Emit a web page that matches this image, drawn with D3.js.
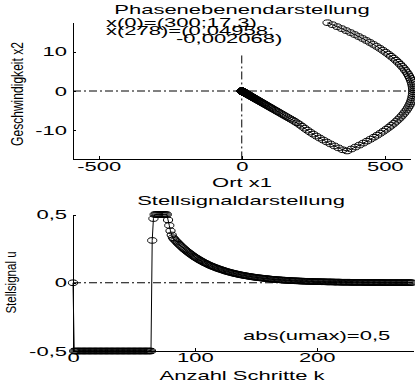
<!DOCTYPE html>
<html>
<head>
<meta charset="utf-8">
<script src="https://cdn.jsdelivr.net/npm/d3@7"></script>
<style>
  body { margin: 0; background: #fff; }
  svg { display: block; }
  text { font-family: "Liberation Sans", Arial, Helvetica, sans-serif; fill: #000; }
</style>
</head>
<body>
<script>
// Phase plane: position x1, velocity x2 for k = 0..278
var x1 = [
  300, 317.05, 333.6, 349.65, 365.2, 380.25, 394.8, 408.85, 422.4, 435.45,
  448, 460.05, 471.6, 482.65, 493.2, 503.25, 512.8, 521.85, 530.4, 538.45,
  546, 553.05, 559.6, 565.65, 571.2, 576.25, 580.8, 584.85, 588.4, 591.45,
  594, 596.05, 597.6, 598.65, 599.2, 599.25, 598.8, 597.85, 596.4, 594.45,
  592, 589.05, 585.6, 581.65, 577.2, 572.25, 566.8, 560.85, 554.4, 547.45,
  540, 532.05, 523.6, 514.65, 505.2, 495.25, 484.8, 473.85, 462.4, 450.45,
  438, 425.05, 411.6, 397.65, 383.2, 368.25,
  353.2, 338.55, 324.38, 310.71, 297.54, 284.87, 272.7, 261.03, 249.86, 239.19,
  229.02, 219.35, 210.18, 201.49, 193.22, 185.33, 177.79,
  170.5, 163.51, 156.81, 150.38, 144.21, 138.3, 132.63, 127.19, 121.97, 116.97,
  112.18, 107.58, 103.17, 98.94, 94.88, 90.99, 87.26, 83.68, 80.25, 76.96,
  73.81, 70.78, 67.88, 65.1, 62.43, 59.87, 57.41, 55.06, 52.8, 50.64,
  48.56, 46.57, 44.66, 42.83, 41.07, 39.39, 37.77, 36.22, 34.74, 33.32,
  31.95, 30.64, 29.38, 28.18, 27.02, 25.92, 24.85, 23.83, 22.86, 21.92,
  21.02, 20.16, 19.33, 18.54, 17.78, 17.05, 16.35, 15.68, 15.04, 14.42,
  13.83, 13.26, 12.72, 12.2, 11.7, 11.22, 10.76, 10.32, 9.89, 9.49,
  9.1, 8.73, 8.37, 8.02, 7.7, 7.38, 7.08, 6.79, 6.51, 6.24,
  5.99, 5.74, 5.51, 5.28, 5.06, 4.86, 4.66, 4.47, 4.28, 4.11,
  3.94, 3.78, 3.62, 3.47, 3.33, 3.19, 3.06, 2.94, 2.82, 2.7,
  2.59, 2.48, 2.38, 2.28, 2.19, 2.1, 2.01, 1.93, 1.85, 1.78,
  1.7, 1.63, 1.57, 1.5, 1.44, 1.38, 1.33, 1.27, 1.22, 1.17,
  1.12, 1.08, 1.03, 0.99, 0.95, 0.91, 0.87, 0.84, 0.8, 0.77,
  0.74, 0.71, 0.68, 0.65, 0.62, 0.6, 0.57, 0.55, 0.53, 0.51,
  0.49, 0.47, 0.45, 0.43, 0.41, 0.39, 0.38, 0.36, 0.35, 0.33,
  0.32, 0.31, 0.29, 0.28, 0.27, 0.26, 0.25, 0.24, 0.23, 0.22,
  0.21, 0.2, 0.19, 0.19, 0.18, 0.17, 0.16, 0.16, 0.15, 0.14,
  0.14, 0.13, 0.13, 0.12, 0.12, 0.11, 0.11, 0.1, 0.1, 0.09,
  0.09, 0.09, 0.08, 0.08, 0.08, 0.07, 0.07, 0.07, 0.06, 0.06,
  0.06, 0.06, 0.05, 0.05, 0.05, 0.04958
];
var x2 = [
  17.3, 16.8, 16.3, 15.8, 15.3, 14.8, 14.3, 13.8, 13.3, 12.8,
  12.3, 11.8, 11.3, 10.8, 10.3, 9.8, 9.3, 8.8, 8.3, 7.8,
  7.3, 6.8, 6.3, 5.8, 5.3, 4.8, 4.3, 3.8, 3.3, 2.8,
  2.3, 1.8, 1.3, 0.8, 0.3, -0.2, -0.7, -1.2, -1.7, -2.2,
  -2.7, -3.2, -3.7, -4.2, -4.7, -5.2, -5.7, -6.2, -6.7, -7.2,
  -7.7, -8.2, -8.7, -9.2, -9.7, -10.2, -10.7, -11.2, -11.7, -12.2,
  -12.7, -13.2, -13.7, -14.2, -14.7, -15.2,
  -14.89, -14.42, -13.92, -13.42, -12.92, -12.42, -11.92, -11.42, -10.92, -10.42,
  -9.92, -9.42, -8.92, -8.47, -8.07, -7.71, -7.38,
  -7.09, -6.8, -6.52, -6.26, -6, -5.75, -5.52, -5.29, -5.07, -4.87,
  -4.67, -4.48, -4.29, -4.12, -3.95, -3.79, -3.63, -3.48, -3.34, -3.2,
  -3.07, -2.94, -2.82, -2.71, -2.6, -2.49, -2.39, -2.29, -2.2, -2.11,
  -2.02, -1.94, -1.86, -1.78, -1.71, -1.64, -1.57, -1.51, -1.45, -1.39,
  -1.33, -1.27, -1.22, -1.17, -1.12, -1.08, -1.03, -0.99, -0.95, -0.91,
  -0.87, -0.84, -0.8, -0.77, -0.74, -0.71, -0.68, -0.65, -0.63, -0.6,
  -0.58, -0.55, -0.53, -0.51, -0.49, -0.47, -0.45, -0.43, -0.41, -0.39,
  -0.38, -0.36, -0.35, -0.33, -0.32, -0.31, -0.29, -0.28, -0.27, -0.26,
  -0.25, -0.24, -0.23, -0.22, -0.21, -0.2, -0.19, -0.19, -0.18, -0.17,
  -0.16, -0.16, -0.15, -0.14, -0.14, -0.13, -0.13, -0.12, -0.12, -0.11,
  -0.11, -0.1, -0.1, -0.095, -0.091, -0.087, -0.084, -0.08, -0.077, -0.074,
  -0.071, -0.068, -0.065, -0.062, -0.06, -0.057, -0.055, -0.053, -0.051, -0.049,
  -0.047, -0.045, -0.043, -0.041, -0.04, -0.038, -0.036, -0.035, -0.033, -0.032,
  -0.031, -0.03, -0.028, -0.027, -0.026, -0.025, -0.024, -0.023, -0.022, -0.021,
  -0.02, -0.02, -0.019, -0.018, -0.017, -0.016, -0.016, -0.015, -0.015, -0.014,
  -0.013, -0.013, -0.012, -0.012, -0.011, -0.011, -0.01, -0.01, -0.0096, -0.0092,
  -0.0087, -0.0083, -0.0079, -0.0079, -0.0075, -0.0071, -0.0067, -0.0067, -0.0062, -0.0058,
  -0.0058, -0.0054, -0.0054, -0.005, -0.005, -0.0046, -0.0046, -0.0042, -0.0042, -0.0037,
  -0.0037, -0.0037, -0.0033, -0.0033, -0.0033, -0.0029, -0.0029, -0.0029, -0.0025, -0.0025,
  -0.0025, -0.0025, -0.0021, -0.0021, -0.0021, -0.002068
];

// control signal u for k = 0..278
var u = [
  0,
  -0.5, -0.5, -0.5, -0.5, -0.5, -0.5, -0.5, -0.5, -0.5, -0.5,
  -0.5, -0.5, -0.5, -0.5, -0.5, -0.5, -0.5, -0.5, -0.5, -0.5,
  -0.5, -0.5, -0.5, -0.5, -0.5, -0.5, -0.5, -0.5, -0.5, -0.5,
  -0.5, -0.5, -0.5, -0.5, -0.5, -0.5, -0.5, -0.5, -0.5, -0.5,
  -0.5, -0.5, -0.5, -0.5, -0.5, -0.5, -0.5, -0.5, -0.5, -0.5,
  -0.5, -0.5, -0.5, -0.5, -0.5, -0.5, -0.5, -0.5, -0.5, -0.5,
  -0.5, -0.5, -0.5, -0.5,
  0.31, 0.47,
  0.5, 0.5, 0.5, 0.5, 0.5, 0.5, 0.5, 0.5, 0.5, 0.5, 0.5,
  0.46, 0.42, 0.38, 0.35,
  0.330, 0.320, 0.310, 0.301, 0.291, 0.282, 0.274, 0.265, 0.257, 0.249,
  0.241, 0.234, 0.227, 0.220, 0.213, 0.207, 0.200, 0.194, 0.188, 0.182,
  0.177, 0.171, 0.166, 0.161, 0.156, 0.151, 0.146, 0.142, 0.138, 0.133,
  0.129, 0.125, 0.121, 0.118, 0.114, 0.111, 0.107, 0.104, 0.101, 0.098,
  0.095, 0.092, 0.089, 0.086, 0.083, 0.081, 0.078, 0.076, 0.074, 0.071,
  0.069, 0.067, 0.065, 0.063, 0.061, 0.059, 0.057, 0.056, 0.054, 0.052,
  0.051, 0.049, 0.048, 0.046, 0.045, 0.043, 0.042, 0.041, 0.039, 0.038,
  0.037, 0.036, 0.035, 0.034, 0.033, 0.032, 0.031, 0.030, 0.029, 0.028,
  0.027, 0.026, 0.025, 0.025, 0.024, 0.023, 0.022, 0.022, 0.021, 0.020,
  0.020, 0.019, 0.019, 0.018, 0.017, 0.017, 0.016, 0.016, 0.015, 0.015,
  0.014, 0.014, 0.014, 0.013, 0.013, 0.012, 0.012, 0.012, 0.011, 0.011,
  0.011, 0.010, 0.010, 0.010, 0.009, 0.009, 0.009, 0.008, 0.008,
  0.008, 0.008, 0.008, 0.007, 0.007, 0.007, 0.007, 0.006, 0.006, 0.006,
  0.006, 0.006, 0.006, 0.005, 0.005, 0.005, 0.005, 0.005, 0.005, 0.004,
  0.004, 0.004, 0.004, 0.004, 0.004, 0.004, 0.004, 0.003, 0.003, 0.003,
  0.003, 0.003, 0.003, 0.003, 0.003, 0.003, 0.003, 0.003, 0.002, 0.002,
  0.002, 0.002, 0.002, 0.002, 0.002, 0.002, 0.002, 0.002, 0.002, 0.002,
  0.002, 0.002, 0.002, 0.002, 0.001, 0.001, 0.001, 0.001, 0.001, 0.001,
  0.001, 0.001, 0.001, 0.001, 0.001, 0.001, 0.001, 0.001, 0.001, 0.001,
  0.001, 0.001, 0.001, 0.001, 0.001, 0.001, 0.001, 0.001
];

var xTicks1 = [-500, 0, 500];
var yTicks1 = [-10, 0, 10];
var xTicks2 = [0, 100, 200];
var yTicks2 = [-0.5, 0, 0.5];
var annot = ["x(0)=(300;17,3)", "x(278)=(0,04958;", "-0,002068)"];

var W = 415, H = 384;
var SY = 0.57;   // text in the picture is flattened vertically
// MATLAB style labels: plain hyphen and decimal comma
var comma = function(d) { return String(d).replace(".", ","); };

var svg = d3.select("body").append("svg")
    .attr("width", W)
    .attr("height", H);

function label(x, y, s, anchor) {
    return svg.append("text")
        .attr("transform", "translate(" + x + "," + y + ") scale(1," + SY + ")")
        .attr("font-size", 22)
        .attr("text-anchor", anchor || "middle")
        .text(s);
}

function ylabel(x, y, s, size, squeeze) {
    svg.append("text")
        .attr("transform", "translate(" + x + "," + y + ") rotate(-90) scale(" + squeeze + ",1)")
        .attr("font-size", size)
        .attr("text-anchor", "middle")
        .text(s);
}

function styleAxis(g, horizontal, offset) {
    g.attr("font-size", 22)
        .attr("font-family", "'Liberation Sans', Arial, Helvetica, sans-serif");
    g.select(".domain").attr("stroke", "#000").attr("shape-rendering", "crispEdges");
    g.selectAll(".tick line").attr("stroke", "#000").attr("shape-rendering", "crispEdges");
    if (horizontal) {
        g.selectAll(".tick text").attr("y", null).attr("dy", null)
            .attr("transform", "translate(0," + offset + ") scale(1," + SY + ")");
    } else {
        g.selectAll(".tick text").attr("x", null).attr("dy", null)
            .attr("transform", "translate(-6,4) scale(1," + SY + ")");
    }
}

function markers(data, xf, yf) {
    svg.append("g").selectAll("ellipse")
        .data(data)
        .enter()
        .append("ellipse")
        .attr("cx", xf)
        .attr("cy", yf)
        .attr("rx", 4.6)
        .attr("ry", 2.8)
        .attr("fill", "none")
        .attr("stroke", "#000")
        .attr("stroke-width", 1);
}

// ---------- Phasenebene ----------
var xs1 = d3.scaleLinear().domain([-590, 590]).range([73, 410.5]);
var ys1 = d3.scaleLinear().domain([-17.3, 17.3]).range([159.3, 22.7]);

var gx1 = svg.append("g")
    .attr("transform", "translate(0," + ys1(-17.3) + ")")
    .call(d3.axisBottom(xs1).tickValues(xTicks1).tickFormat(comma).tickSize(-3).tickSizeOuter(0));
styleAxis(gx1, true, 11.4);

var gy1 = svg.append("g")
    .attr("transform", "translate(" + xs1(-590) + ",0)")
    .call(d3.axisLeft(ys1).tickValues(yTicks1).tickFormat(comma).tickSize(-3).tickSizeOuter(0));
styleAxis(gy1, false);

// dash-dot zero lines
svg.append("line")
    .attr("x1", xs1(-590)).attr("x2", xs1(590))
    .attr("y1", ys1(0)).attr("y2", ys1(0))
    .attr("stroke", "#000").attr("stroke-dasharray", "8,3,2,3");
svg.append("line")
    .attr("x1", xs1(0)).attr("x2", xs1(0))
    .attr("y1", ys1(9)).attr("y2", ys1(-17.3))
    .attr("stroke", "#000").attr("stroke-dasharray", "8,3,2,3");

var phase = x1.map(function(d, i) { return [d, x2[i]]; });

svg.append("path")
    .datum(phase)
    .attr("d", d3.line().x(function(d) { return xs1(d[0]); }).y(function(d) { return ys1(d[1]); }))
    .attr("fill", "none")
    .attr("stroke", "#000")
    .attr("stroke-width", 1);

markers(phase, function(d) { return xs1(d[0]); }, function(d) { return ys1(d[1]); });

label(242, 13.5, "Phasenebenendarstellung");
label(106, 26.5, annot[0], "start");
label(106, 34.5, annot[1], "start");
label(176, 43, annot[2], "start");
label(242, 186.5, "Ort x1");
ylabel(23, 94, "Geschwindigkeit x2", 17, 0.71);

// ---------- Stellsignal ----------
var steps = d3.range(u.length);
var xs2 = d3.scaleLinear().domain([0, 279]).range([73, 413]);
var ys2 = d3.scaleLinear().domain([-0.5, 0.5]).range([351, 214.5]);

var gx2 = svg.append("g")
    .attr("transform", "translate(0," + ys2(-0.5) + ")")
    .call(d3.axisBottom(xs2).tickValues(xTicks2).tickFormat(comma).tickSize(-3).tickSizeOuter(0));
styleAxis(gx2, true, 10.7);

var gy2 = svg.append("g")
    .attr("transform", "translate(" + xs2(0) + ",0)")
    .call(d3.axisLeft(ys2).tickValues(yTicks2).tickFormat(comma).tickSize(-3).tickSizeOuter(0));
styleAxis(gy2, false);

svg.append("line")
    .attr("x1", xs2(0)).attr("x2", xs2(279))
    .attr("y1", ys2(0)).attr("y2", ys2(0))
    .attr("stroke", "#000").attr("stroke-dasharray", "8,3,2,3");

svg.append("path")
    .datum(steps)
    .attr("d", d3.line().x(function(k) { return xs2(k); }).y(function(k) { return ys2(u[k]); }))
    .attr("fill", "none")
    .attr("stroke", "#000")
    .attr("stroke-width", 1);

markers(steps, function(k) { return xs2(k); }, function(k) { return ys2(u[k]); });

label(241, 205, "Stellsignaldarstellung");
label(243, 340, "abs(umax)=0,5", "start");
label(242, 379.5, "Anzahl Schritte k");
ylabel(16, 282.5, "Stellsignal u", 15, 0.77);
</script>
</body>
</html>
